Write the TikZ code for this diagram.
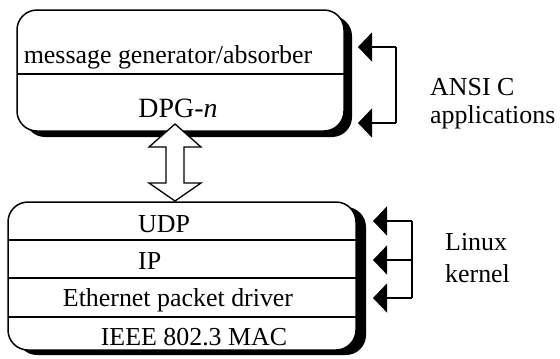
\documentclass[tikz,border=0pt]{standalone}
\usepackage{fontspec}
\setmainfont{Liberation Serif}
\usetikzlibrary{arrows.meta}
\tikzset{
  lbl/.style={inner sep=0pt, font=\fontsize{26}{30}\selectfont},
  layerbox/.style={draw=black, line width=1.5bp, fill=white, rounded corners=20bp},
  shadowbox/.style={fill=black, rounded corners=20bp},
  divider/.style={line width=1.5bp},
  feed/.style={line width=1.5bp, -{Triangle[length=14bp,width=29bp]}},
  bigarrow/.style={draw=black, line width=1.3bp, fill=white, line join=miter},
}
\begin{document}
\begin{tikzpicture}[x=1bp, y=-1bp]
\useasboundingbox (0,0) rectangle (560,358);
% top box
\fill[shadowbox] (25,16) rectangle (352,137);
\draw[layerbox] (17,10) rectangle (344,131);
\draw[divider] (17,74) -- (344,74);
\node[lbl, anchor=base] (msg) at (168,63) {message generator/absorber};
\node[lbl, anchor=base, font=\fontsize{28}{32}\selectfont] (dpg) at (178,117) {DPG-\textit{n}};
% bottom box
\fill[shadowbox] (17,207) rectangle (366,355);
\draw[layerbox] (8,202) rectangle (356,350);
\draw[divider] (8,240) -- (356,240);
\draw[divider] (8,278) -- (356,278);
\draw[divider] (8,317) -- (356,317);
\node[lbl, anchor=base west] (udp) at (138,232) {UDP};
\node[lbl, anchor=base west] (ip) at (138,269) {IP};
\node[lbl, anchor=base] (eth) at (178,306) {Ethernet packet driver};
\node[lbl, anchor=base] (mac) at (194,345) {IEEE 802.3 MAC};
% double arrow
\draw[bigarrow] (175,124) -- (201,147) -- (184,147) -- (184,183) -- (201,183)
  -- (175,201) -- (149,183) -- (166,183) -- (166,147) -- (149,147) -- cycle;
% ANSI C applications
\coordinate (a1) at (358,47);
\coordinate (a2) at (358,123);
\coordinate (av1) at (396,47);
\coordinate (av2) at (396,123);
\draw[line width=1.5bp] (av1) -- (av2);
\draw[feed] (av1) -- (a1);
\draw[feed] (av2) -- (a2);
\node[lbl, anchor=base west] (ansi) at (430,95) {ANSI C};
\node[lbl, anchor=base west] (apps) at (430,123) {applications};
% Linux kernel
\coordinate (k1) at (373,221);
\coordinate (k2) at (373,260);
\coordinate (k3) at (373,298);
\coordinate (kv1) at (412,221);
\coordinate (kv2) at (412,260);
\coordinate (kv3) at (412,298);
\draw[line width=1.5bp] (kv1) -- (kv3);
\draw[feed] (kv1) -- (k1);
\draw[feed] (kv2) -- (k2);
\draw[feed] (kv3) -- (k3);
\node[lbl, anchor=base west] (linux) at (445,250) {Linux};
\node[lbl, anchor=base west] (kern) at (445,282) {kernel};
\end{tikzpicture}
\end{document}
